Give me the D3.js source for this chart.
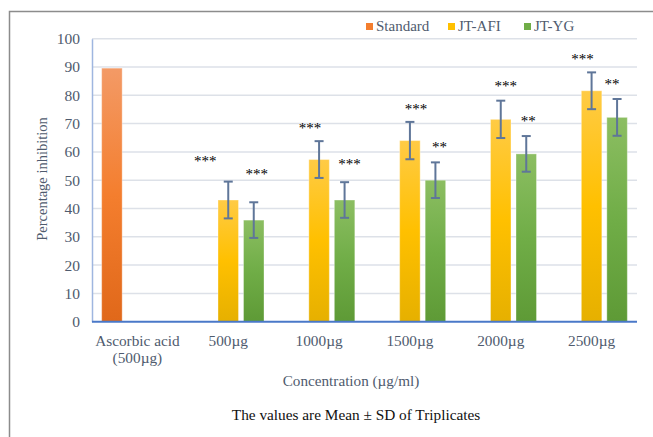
<!DOCTYPE html>
<html>
<head>
<meta charset="utf-8">
<script src="https://cdn.jsdelivr.net/npm/d3@7"></script>
<style>
  body { margin: 0; background: #fff; }
  text { font-family: "Liberation Serif", "Times New Roman", serif; }
</style>
</head>
<body>
<div id="chart"></div>
<script>
const categories = ["Ascorbic acid\n(500µg)", "500µg", "1000µg", "1500µg", "2000µg", "2500µg"];
const seriesNames = ["Standard", "JT-AFI", "JT-YG"];
const standardValues = [89.6, null, null, null, null, null];
const afiValues = [null, 43.0, 57.3, 64.0, 71.5, 81.6];
const afiErrors = [null, 6.5, 6.5, 6.6, 6.6, 6.5];
const ygValues = [null, 35.9, 43.0, 50.0, 59.3, 72.2];
const ygErrors = [null, 6.3, 6.3, 6.3, 6.3, 6.5];
const afiStars = [null, "***", "***", "***", "***", "***"];
const ygStars = [null, "***", "***", "**", "**", "**"];
const yTicks = [0, 10, 20, 30, 40, 50, 60, 70, 80, 90, 100];

// where the star labels sit (value level) and how far they were nudged sideways
const afiStarLevel = [null, 57.6, 69.0, 76.0, 84.0, 93.5];
const afiStarDx = [null, -23, -9, 6, 5, -9];
const ygStarLevel = [null, 53.0, 56.3, 62.3, 71.5, 84.8];
const ygStarDx = [null, 3, 5, 4, 2, -5];

function drawChart() {
    const W = 653, H = 437;
    const margin = {top: 38.7, right: 16, bottom: 115.3, left: 92};
    const width = W - margin.left - margin.right;
    const height = H - margin.top - margin.bottom;

    const svgRoot = d3.select("#chart").append("svg")
        .attr("width", W)
        .attr("height", H);

    // outer frame
    svgRoot.append("path")
        .attr("d", `M9.5,${H} L9.5,11.5 L${W},11.5`)
        .attr("fill", "none")
        .attr("stroke", "#8c8c8c")
        .attr("stroke-width", 1.5);

    const defs = svgRoot.append("defs");
    const gradients = [
        {id: "gStd", stops: ["#f39a66", "#f47e2e", "#e0681a"]},
        {id: "gAfi", stops: ["#ffcb45", "#ffc000", "#e6b000"]},
        {id: "gYg", stops: ["#8cbe62", "#70ad47", "#5e9a36"]}
    ];
    gradients.forEach(g => {
        const lg = defs.append("linearGradient")
            .attr("id", g.id)
            .attr("x1", 0).attr("y1", 0).attr("x2", 0).attr("y2", 1);
        g.stops.forEach((c, i) => lg.append("stop")
            .attr("offset", i / (g.stops.length - 1))
            .attr("stop-color", c));
    });

    const svg = svgRoot.append("g")
        .attr("transform", `translate(${margin.left},${margin.top})`);

    const xScale = d3.scaleBand()
        .domain(categories)
        .range([0, width])
        .padding(0);

    const yScale = d3.scaleLinear()
        .domain([0, 100])
        .range([height, 0]);

    const barW = 20.5, step = 25.5;

    // gridlines
    svg.append("g")
        .selectAll("line")
        .data(yTicks.filter(d => d > 0))
        .join("line")
        .attr("x1", 0).attr("x2", width)
        .attr("y1", d => yScale(d)).attr("y2", d => yScale(d))
        .attr("stroke", "#dde1e8")
        .attr("stroke-width", 1.5);

    // y axis
    const yAxis = svg.append("g")
        .call(d3.axisLeft(yScale).tickValues(yTicks).tickSize(0).tickPadding(12));
    yAxis.select(".domain").attr("stroke", "#9fb6e0").attr("stroke-width", 1.5);
    yAxis.selectAll("text")
        .attr("font-size", 15.5)
        .attr("fill", "#4f5b6e")
        .style("font-family", "Liberation Serif, serif");

    const series = [
        {name: seriesNames[0], values: standardValues, errors: null, offset: -step, fill: "url(#gStd)"},
        {name: seriesNames[1], values: afiValues, errors: afiErrors, offset: 0, fill: "url(#gAfi)"},
        {name: seriesNames[2], values: ygValues, errors: ygErrors, offset: step, fill: "url(#gYg)"}
    ];

    const cx = (i, off) => xScale(categories[i]) + xScale.bandwidth() / 2 + off;

    series.forEach(s => {
        const pts = s.values.map((v, i) => ({v, i})).filter(d => d.v !== null);
        svg.append("g")
            .selectAll("rect")
            .data(pts)
            .join("rect")
            .attr("x", d => cx(d.i, s.offset) - barW / 2)
            .attr("width", barW)
            .attr("y", d => yScale(d.v))
            .attr("height", d => height - yScale(d.v))
            .attr("fill", s.fill)
            .attr("stroke", "rgba(255,255,255,0.35)")
            .attr("stroke-width", 1);

        if (s.errors) {
            const eg = svg.append("g")
                .attr("stroke", "#5f7699")
                .attr("stroke-width", 2);
            pts.forEach(d => {
                const x = cx(d.i, s.offset);
                const hi = yScale(d.v + s.errors[d.i]);
                const lo = yScale(d.v - s.errors[d.i]);
                eg.append("line").attr("x1", x).attr("x2", x).attr("y1", hi).attr("y2", lo);
                eg.append("line").attr("x1", x - 4.5).attr("x2", x + 4.5).attr("y1", hi).attr("y2", hi);
                eg.append("line").attr("x1", x - 4.5).attr("x2", x + 4.5).attr("y1", lo).attr("y2", lo);
            });
        }
    });

    // x axis line
    svg.append("line")
        .attr("x1", 0).attr("x2", width)
        .attr("y1", height).attr("y2", height)
        .attr("stroke", "#4a78c8")
        .attr("stroke-width", 2);

    // category labels
    svg.append("g")
        .selectAll("text")
        .data(categories)
        .join("text")
        .attr("text-anchor", "middle")
        .attr("font-size", 15.3)
        .attr("fill", "#4f5b6e")
        .attr("transform", d => `translate(${xScale(d) + xScale.bandwidth() / 2},${height + 24})`)
        .each(function(d) {
            d.split("\n").forEach((line, k) => {
                d3.select(this).append("tspan")
                    .attr("x", 0)
                    .attr("dy", k === 0 ? 0 : 17)
                    .text(line);
            });
        });

    // significance stars
    const starSets = [
        {labels: afiStars, level: afiStarLevel, dx: afiStarDx, offset: 0},
        {labels: ygStars, level: ygStarLevel, dx: ygStarDx, offset: step}
    ];
    starSets.forEach(st => {
        svg.append("g")
            .selectAll("text")
            .data(st.labels.map((t, i) => ({t, i})).filter(d => d.t))
            .join("text")
            .attr("text-anchor", "middle")
            .attr("font-size", 15)
            .attr("fill", "#000")
            .attr("x", d => cx(d.i, st.offset) + st.dx[d.i])
            .attr("y", d => yScale(st.level[d.i]) + 7)
            .text(d => d.t);
    });

    // y axis title
    svgRoot.append("text")
        .attr("transform", `translate(47,179) rotate(-90)`)
        .attr("text-anchor", "middle")
        .attr("font-size", 14.5)
        .attr("fill", "#4f5b6e")
        .text("Percentage inhibition");

    // x axis title
    svgRoot.append("text")
        .attr("x", 351).attr("y", 386)
        .attr("text-anchor", "middle")
        .attr("font-size", 15.2)
        .attr("fill", "#4f5b6e")
        .text("Concentration (µg/ml)");

    // footnote
    svgRoot.append("text")
        .attr("x", 356).attr("y", 420)
        .attr("text-anchor", "middle")
        .attr("font-size", 15.3)
        .attr("fill", "#111")
        .text("The values are Mean ± SD of Triplicates");

    // legend
    const legendColors = ["#f47e2e", "#ffc000", "#70ad47"];
    const legendX = [366, 448, 524];
    const legend = svgRoot.append("g");
    seriesNames.forEach((n, i) => {
        legend.append("rect")
            .attr("x", legendX[i]).attr("y", 23)
            .attr("width", 7).attr("height", 7)
            .attr("fill", legendColors[i]);
        legend.append("text")
            .attr("x", legendX[i] + 10).attr("y", 31)
            .attr("font-size", 15)
            .attr("fill", "#4f5b6e")
            .text(n);
    });
}

drawChart();
</script>
</body>
</html>
